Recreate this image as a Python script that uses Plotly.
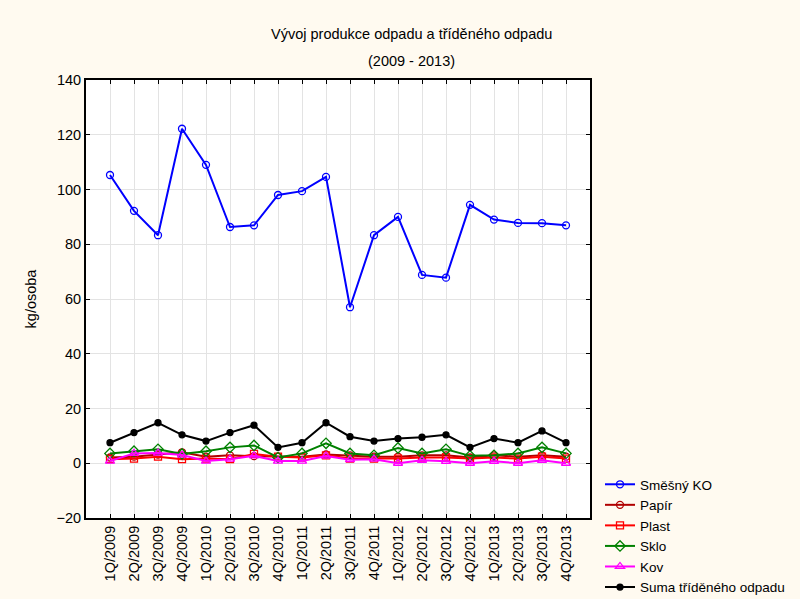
import plotly.graph_objects as go

categories = ["1Q/2009","2Q/2009","3Q/2009","4Q/2009","1Q/2010","2Q/2010","3Q/2010","4Q/2010",
              "1Q/2011","2Q/2011","3Q/2011","4Q/2011","1Q/2012","2Q/2012","3Q/2012","4Q/2012",
              "1Q/2013","2Q/2013","3Q/2013","4Q/2013"]
smesny = [105.3, 92.2, 83.3, 122.2, 109.0, 86.3, 86.9, 98.0, 99.4, 104.6,
          57.0, 83.3, 90.0, 68.8, 67.8, 94.4, 89.0, 87.8, 87.7, 86.9]
papir = [2.1, 2.4, 3.2, 4.0, 2.4, 2.9, 2.6, 2.4, 2.4, 3.2,
         2.9, 2.4, 2.4, 2.9, 2.9, 2.1, 2.9, 2.4, 2.9, 2.4]
plast = [1.5, 1.7, 2.4, 1.5, 1.7, 1.5, 3.4, 2.4, 2.1, 2.9,
         1.7, 1.7, 1.7, 2.1, 2.1, 1.7, 2.1, 1.7, 2.4, 1.7]
sklo = [3.6, 4.4, 5.1, 3.4, 4.4, 5.8, 6.5, 2.1, 3.6, 7.3,
        3.6, 2.9, 5.6, 3.6, 5.1, 2.7, 2.9, 3.6, 5.8, 3.6]
kov = [0.8, 3.6, 3.7, 3.0, 0.8, 1.5, 2.7, 0.8, 0.8, 2.6,
       1.3, 1.5, 0.0, 1.1, 0.7, 0.0, 0.7, 0.0, 1.1, 0.0]
suma = [7.5, 11.2, 14.8, 10.4, 8.1, 11.2, 13.9, 5.8, 7.5, 14.8,
        9.7, 8.1, 9.0, 9.5, 10.4, 5.8, 9.0, 7.5, 11.8, 7.5]

series = [
    ("Směšný KO", smesny, "#0000FF", "circle-open", 7),
    ("Papír", papir, "#B00000", "circle-open", 7),
    ("Plast", plast, "#FF0000", "square-open", 7),
    ("Sklo", sklo, "#008000", "diamond-open", 8),
    ("Kov", kov, "#FF00FF", "triangle-up-open", 8),
    ("Suma tříděného odpadu", suma, "#000000", "circle", 6),
]

fig = go.Figure()
for name, vals, col, sym, sz in series:
    fig.add_trace(go.Scatter(
        x=list(range(len(categories))), y=vals, name=name, mode="lines+markers",
        line=dict(color=col, width=2),
        marker=dict(symbol=sym, size=sz, color=col, line=dict(color=col, width=1.3)),
    ))

font = "Liberation Sans"
L, R, T, B = 86, 210, 80, 81
W, H = 800, 599
pw, ph = W - L - R, H - T - B

def px2paper(xp, yp):
    return (xp - L) / pw, (H - B - yp) / ph

x1, y1 = px2paper(411, 34)
x2, y2 = px2paper(411, 61)
lx, ly = px2paper(600, 469)

fig.update_layout(
    width=W, height=H,
    paper_bgcolor="#FFFAF0", plot_bgcolor="#FFFFFF",
    margin=dict(l=L, r=R, t=T, b=B, autoexpand=False),
    font=dict(family=font, size=14.5, color="#000000"),
    showlegend=True,
    legend=dict(x=lx, y=ly, xanchor="left", yanchor="top",
                bgcolor="rgba(0,0,0,0)", font=dict(size=13.5, family=font),
                tracegroupgap=0, itemwidth=30),
    annotations=[
        dict(text="Vývoj produkce odpadu a tříděného odpadu", x=x1, y=y1, xref="paper", yref="paper",
             showarrow=False, font=dict(size=14.5, family=font), xanchor="center", yanchor="middle"),
        dict(text="(2009 - 2013)", x=x2, y=y2, xref="paper", yref="paper",
             showarrow=False, font=dict(size=14.5, family=font), xanchor="center", yanchor="middle"),
    ],
)
fig.update_xaxes(
    range=[-1, 20], tickmode="array", tickvals=list(range(len(categories))), ticktext=categories,
    tickangle=-90, showgrid=True, gridcolor="#E3E3E3", gridwidth=1,
    showline=True, linecolor="#000000", linewidth=2, mirror="allticks",
    ticks="inside", ticklen=4, tickcolor="#000000", zeroline=False,
    tickfont=dict(size=14.5),
)
fig.update_yaxes(
    range=[-20, 140], dtick=20, showgrid=True, gridcolor="#E3E3E3", gridwidth=1,
    showline=True, linecolor="#000000", linewidth=2, mirror="allticks",
    ticks="inside", ticklen=4, tickcolor="#000000", zeroline=False,
    title=dict(text="kg/osoba", font=dict(size=14.5), standoff=16),
    tickfont=dict(size=14.5),
)
fig.write_html("out.html", config={"displayModeBar": False},
               post_script="document.body.style.margin='0';document.body.style.overflow='hidden';")
